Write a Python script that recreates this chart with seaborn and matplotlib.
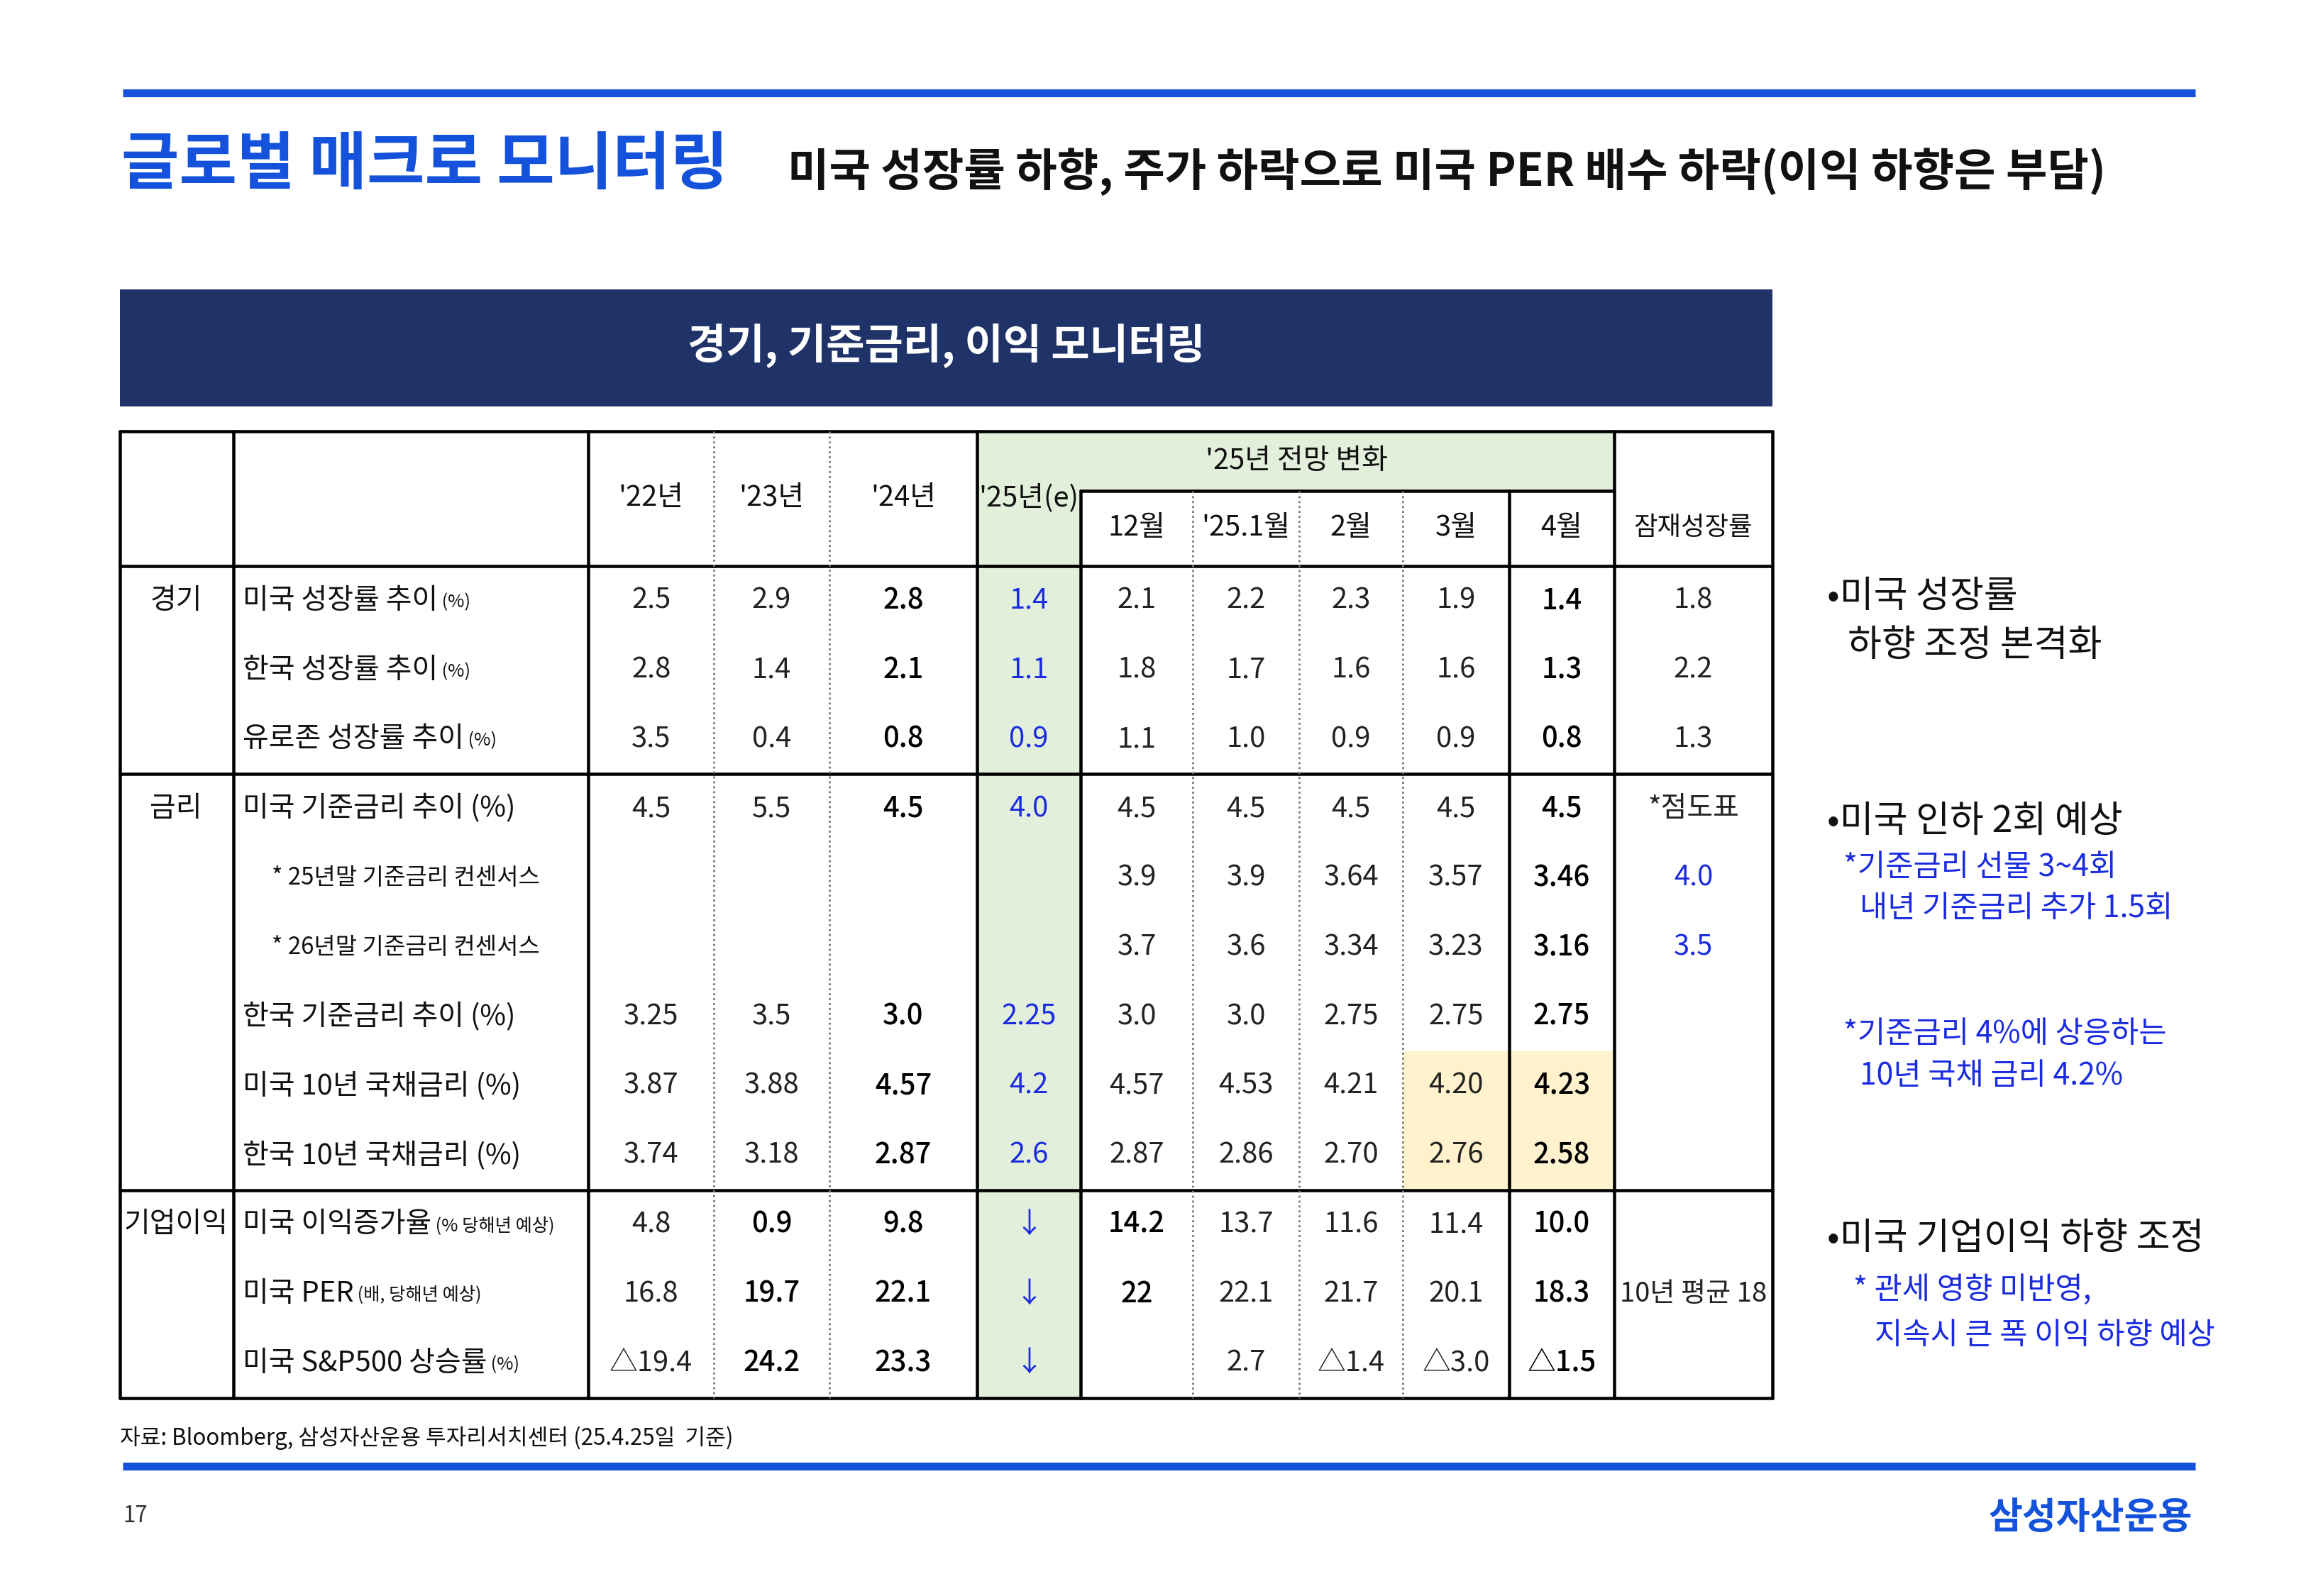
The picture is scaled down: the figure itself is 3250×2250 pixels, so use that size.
import matplotlib
matplotlib.use("Agg")
import matplotlib.pyplot as plt
import seaborn as sns
from matplotlib import font_manager
from matplotlib.patches import Rectangle

cjk = [f.name for f in font_manager.fontManager.ttflist if "CJK" in f.name]
pref = [n for n in ["Noto Sans CJK KR", "Noto Sans CJK JP", "Noto Sans CJK SC"] if n in cjk] or cjk
FONT = pref[0] if pref else "DejaVu Sans"
sns.set_theme(style="white", font=FONT)
plt.rcParams["font.family"] = [FONT, "DejaVu Sans"]

# ---------------- data ----------------
year_cols = ["'22년", "'23년", "'24년", "'25년(e)"]
month_cols = ["12월", "'25.1월", "2월", "3월", "4월"]
pot_col = "잠재성장률"
group_labels = ["경기", "금리", "기업이익"]
row_labels = [
    ("미국 성장률 추이", " (%)"), ("한국 성장률 추이", " (%)"), ("유로존 성장률 추이", " (%)"),
    ("미국 기준금리 추이 (%)", ""), ("* 25년말 기준금리 컨센서스", ""), ("* 26년말 기준금리 컨센서스", ""),
    ("한국 기준금리 추이 (%)", ""), ("미국 10년 국채금리 (%)", ""), ("한국 10년 국채금리 (%)", ""),
    ("미국 이익증가율", " (% 당해년 예상)"), ("미국 PER", " (배, 당해년 예상)"), ("미국 S&P500 상승률", " (%)"),
]
values = [
    ["2.5", "2.9", "2.8", "1.4", "2.1", "2.2", "2.3", "1.9", "1.4", "1.8"],
    ["2.8", "1.4", "2.1", "1.1", "1.8", "1.7", "1.6", "1.6", "1.3", "2.2"],
    ["3.5", "0.4", "0.8", "0.9", "1.1", "1.0", "0.9", "0.9", "0.8", "1.3"],
    ["4.5", "5.5", "4.5", "4.0", "4.5", "4.5", "4.5", "4.5", "4.5", "*점도표"],
    ["", "", "", "", "3.9", "3.9", "3.64", "3.57", "3.46", "4.0"],
    ["", "", "", "", "3.7", "3.6", "3.34", "3.23", "3.16", "3.5"],
    ["3.25", "3.5", "3.0", "2.25", "3.0", "3.0", "2.75", "2.75", "2.75", ""],
    ["3.87", "3.88", "4.57", "4.2", "4.57", "4.53", "4.21", "4.20", "4.23", ""],
    ["3.74", "3.18", "2.87", "2.6", "2.87", "2.86", "2.70", "2.76", "2.58", ""],
    ["4.8", "0.9", "9.8", "↓", "14.2", "13.7", "11.6", "11.4", "10.0", ""],
    ["16.8", "19.7", "22.1", "↓", "22", "22.1", "21.7", "20.1", "18.3", "10년 평균 18"],
    ["△19.4", "24.2", "23.3", "↓", "", "2.7", "△1.4", "△3.0", "△1.5", ""],
]
title = "글로벌 매크로 모니터링"
subtitle = "미국 성장률 하향, 주가 하락으로 미국 PER 배수 하락(이익 하향은 부담)"
banner = "경기, 기준금리, 이익 모니터링"
source = "자료: Bloomberg, 삼성자산운용 투자리서치센터 (25.4.25일  기준)"

# ---------------- layout ----------------
BLUE = "#1452DC"
NAVY = "#1F3368"
GREEN = "#E2EFDA"
YELLOW = "#FFF2CC"
TXTBLUE = "#1A2BE0"

fig = plt.figure(figsize=(13, 9), dpi=250)
ax = fig.add_axes([0, 0, 1, 1])
ax.set_xlim(0, 1560)
ax.set_ylim(1080, 0)
ax.axis("off")

ax.plot([83, 1485], [63, 63], color=BLUE, lw=3.2, solid_capstyle="butt")
ax.text(82, 112, title, color=BLUE, fontsize=25.5, fontweight="bold", va="center")
ax.text(533, 116, subtitle, color="#111111", fontsize=18.3, fontweight="bold", va="center")

ax.add_patch(Rectangle((81, 196), 1118, 79, color=NAVY, lw=0))
ax.text(640, 234, banner, color="white", fontsize=17, fontweight="bold", ha="center", va="center")

xb = [81, 158, 398, 483, 561, 661, 731, 807, 879, 949, 1021, 1092, 1199]
top, hmid, hbot, bot = 292, 332, 383, 946
row_h = (bot - hbot) / 12
row_y = [hbot + row_h * (i + 0.5) for i in range(12)]

ax.add_patch(Rectangle((661, top), 70, bot - top, color=GREEN, lw=0))
ax.add_patch(Rectangle((731, top), 1092 - 731, hmid - top, color=GREEN, lw=0))
for r in (7, 8):
    for c in (9, 10):
        ax.add_patch(Rectangle((xb[c], hbot + row_h * r), xb[c + 1] - xb[c], row_h, color=YELLOW, lw=0))

lw = 1.3
for y in (top, hbot, hbot + row_h * 3, hbot + row_h * 9, bot):
    ax.plot([81, 1199], [y, y], color="black", lw=lw)
ax.plot([731, 1092], [hmid, hmid], color="black", lw=lw)
for x in (81, 158, 398, 661, 1092, 1199):
    ax.plot([x, x], [top, bot], color="black", lw=lw)
for x in (731, 1021):
    ax.plot([x, x], [hmid, bot], color="black", lw=lw)
for x in (483, 561):
    ax.plot([x, x], [top, bot], color="#777777", lw=0.8, ls=(0, (1, 1.5)))
for x in (807, 879, 949):
    ax.plot([x, x], [hmid, bot], color="#777777", lw=0.8, ls=(0, (1, 1.5)))

fs = 11.5
centers = [(xb[i] + xb[i + 1]) / 2 for i in range(len(xb) - 1)]
for i, lab in enumerate(year_cols):
    ax.text(centers[2 + i], 337, lab, fontsize=fs, ha="center", va="center", color="#111111")
ax.text(877, 312, "'25년 전망 변화", fontsize=fs, ha="center", va="center", color="#111111")
for i, lab in enumerate(month_cols):
    ax.text(centers[6 + i], 357, lab, fontsize=fs, ha="center", va="center", color="#111111")
ax.text(centers[11], 357, pot_col, fontsize=10.5, ha="center", va="center", color="#111111")

for g, r in zip(group_labels, (0, 3, 9)):
    ax.text(119, row_y[r], g, fontsize=fs, ha="center", va="center", color="#111111")

fig.canvas.draw()
renderer = fig.canvas.get_renderer()
inv = ax.transData.inverted()
for i, (main, small) in enumerate(row_labels):
    y = row_y[i]
    if main.startswith("*"):
        ax.text(184, y, main, fontsize=9.5, va="center", color="#111111")
        continue
    t = ax.text(164, y, main, fontsize=fs, va="center", color="#111111")
    if small:
        bb = t.get_window_extent(renderer)
        xe = inv.transform((bb.x1, bb.y0))[0]
        ax.text(xe, y + 1, small, fontsize=7.3, va="center", color="#111111")

for i, row in enumerate(values):
    for j, v in enumerate(row):
        if not v:
            continue
        c = centers[2 + j]
        color = "#222222"
        weight = "normal"
        size = fs
        if j == 3:
            color = TXTBLUE
        if j == 9 and v in ("4.0", "3.5"):
            color = TXTBLUE
        if j in (2, 8) or (j == 1 and i >= 9) or (j == 4 and i >= 9):
            weight = "medium"
            color = "#000000" if color == "#222222" else color
        if j == 9 and len(v) > 4:
            size = 11
        ax.text(c, row_y[i], v, fontsize=size, ha="center", va="center", color=color, fontweight=weight)

ax.text(1236, 404, "•미국 성장률", fontsize=15, va="center", color="#111111")
ax.text(1250, 437, "하향 조정 본격화", fontsize=15, va="center", color="#111111")
ax.text(1236, 556, "•미국 인하 2회 예상", fontsize=15, va="center", color="#111111")
ax.text(1247, 587, "*기준금리 선물 3~4회", fontsize=12.3, va="center", color=TXTBLUE)
ax.text(1258, 615, "내년 기준금리 추가 1.5회", fontsize=12.3, va="center", color=TXTBLUE)
ax.text(1247, 700, "*기준금리 4%에 상응하는", fontsize=12.3, va="center", color=TXTBLUE)
ax.text(1258, 728, "10년 국채 금리 4.2%", fontsize=12.3, va="center", color=TXTBLUE)
ax.text(1236, 838, "•미국 기업이익 하향 조정", fontsize=15, va="center", color="#111111")
ax.text(1254, 873, "* 관세 영향 미반영,", fontsize=12.3, va="center", color=TXTBLUE)
ax.text(1268, 904, "지속시 큰 폭 이익 하향 예상", fontsize=12.3, va="center", color=TXTBLUE)

ax.text(81, 973, source, fontsize=9, va="center", color="#111111")
ax.plot([83, 1485], [992, 992], color=BLUE, lw=3.2, solid_capstyle="butt")
ax.text(83, 1026, "17", fontsize=9, va="center", color="#333333")
ax.text(1483, 1027, "삼성자산운용", fontsize=15, fontweight="bold", ha="right", va="center", color=BLUE)

fig.savefig("out.png", dpi=250, facecolor="white")
